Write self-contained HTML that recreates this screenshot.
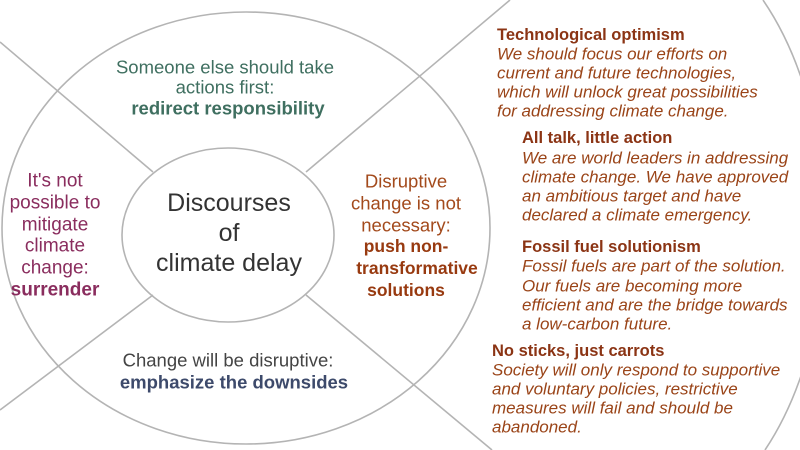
<!DOCTYPE html>
<html><head><meta charset="utf-8"><style>
html,body{margin:0;padding:0;background:#fff;width:800px;height:450px;overflow:hidden}
svg{display:block;font-family:"Liberation Sans",sans-serif}
</style></head><body>
<svg width="800" height="450" viewBox="0 0 800 450">
<g fill="none" stroke="#b4b4b4" stroke-width="1.6">
<ellipse cx="246" cy="228" rx="244" ry="216"/>
<ellipse cx="228" cy="235" rx="106" ry="87"/>
<path d="M763,0 C845,120 845,330 765,450"/>
<line x1="0" y1="42" x2="153" y2="172"/>
<line x1="510" y1="0" x2="306" y2="172"/>
<line x1="0" y1="410" x2="153" y2="295"/>
<line x1="306" y1="295" x2="492" y2="450"/>
</g>
<g text-anchor="middle" dominant-baseline="central" font-size="18.5">
<g fill="#3f6f60">
<text x="225" y="67">Someone else should take</text>
<text x="225" y="87">actions first:</text>
<text x="228" y="108" font-weight="bold">redirect responsibility</text>
</g>
<g fill="#8a2d5e" font-size="19">
<text x="55" y="181">It's not</text>
<text x="55" y="203">possible to</text>
<text x="55" y="225">mitigate</text>
<text x="55" y="246">climate</text>
<text x="55" y="268">change:</text>
<text x="55" y="290" font-weight="bold">surrender</text>
</g>
<g fill="#333" font-size="25">
<text x="229" y="203">Discourses</text>
<text x="229" y="233">of</text>
<text x="229" y="263">climate delay</text>
</g>
<g fill="#a34a1c">
<text x="406" y="181">Disruptive</text>
<text x="406" y="203">change is not</text>
<text x="406" y="225">necessary:</text>
<text x="406" y="246" font-weight="bold" fill="#983a10" font-size="17.5">push non-</text>
<text x="417" y="268" font-weight="bold" fill="#983a10" font-size="17.5">transformative</text>
<text x="406" y="290" font-weight="bold" fill="#983a10" font-size="17.5">solutions</text>
</g>
<g fill="#444">
<text x="228" y="360">Change will be disruptive:</text>
<text x="234" y="382" font-weight="bold" fill="#3d4a6b">emphasize the downsides</text>
</g>
</g>
<g dominant-baseline="central" font-size="17" fill="#9a4418">
<g>
<text x="497" y="35" font-weight="bold" fill="#8b3414" font-size="16.5">Technological optimism</text>
<text x="497" y="54" font-style="italic">We should focus our efforts on</text>
<text x="497" y="73" font-style="italic">current and future technologies,</text>
<text x="497" y="92" font-style="italic">which will unlock great possibilities</text>
<text x="497" y="111" font-style="italic">for addressing climate change.</text>
</g>
<g>
<text x="522" y="138" font-weight="bold" fill="#8b3414" font-size="16.5">All talk, little action</text>
<text x="522" y="158" font-style="italic">We are world leaders in addressing</text>
<text x="522" y="177" font-style="italic">climate change. We have approved</text>
<text x="522" y="196" font-style="italic">an ambitious target and have</text>
<text x="522" y="215" font-style="italic">declared a climate emergency.</text>
</g>
<g>
<text x="522" y="247" font-weight="bold" fill="#8b3414" font-size="16.5">Fossil fuel solutionism</text>
<text x="522" y="266" font-style="italic">Fossil fuels are part of the solution.</text>
<text x="522" y="286" font-style="italic">Our fuels are becoming more</text>
<text x="522" y="305" font-style="italic">efficient and are the bridge towards</text>
<text x="522" y="324" font-style="italic">a low-carbon future.</text>
</g>
<g>
<text x="492" y="351" font-weight="bold" fill="#8b3414" font-size="16.5">No sticks, just carrots</text>
<text x="492" y="370" font-style="italic">Society will only respond to supportive</text>
<text x="492" y="389" font-style="italic">and voluntary policies, restrictive</text>
<text x="492" y="408" font-style="italic">measures will fail and should be</text>
<text x="492" y="427" font-style="italic">abandoned.</text>
</g>
</g>
</svg>
</body></html>
